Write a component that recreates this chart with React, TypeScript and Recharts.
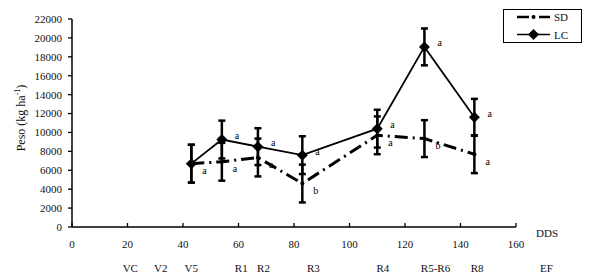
import React from "react";
import {
  ErrorBar,
  LabelList,
  Legend,
  Line,
  LineChart,
  XAxis,
  YAxis,
} from "recharts";

// days after sowing (DDS) of each sampling
const dds = [43, 54, 67, 83, 110, 127, 145];

// dry weight, kg/ha
const sdPeso = [6700, 6900, 7350, 4600, 9700, 9350, 7700];
const lcPeso = [6700, 9250, 8500, 7600, 10400, 19050, 11600];
const sdErr = [2000, 2000, 2000, 2000, 2000, 1950, 2000];
const lcErr = [2000, 2000, 1950, 2000, 2000, 1950, 1950];

// letters of the mean comparison
const sdSig = ["a", "a", "a", "b", "a", "b", "a"];
const lcSig = ["", "a", "a", "a", "a", "a", "a"];

const seriesOrder = ["SD", "LC"];

const xTicks = [0, 20, 40, 60, 80, 100, 120, 140, 160];
const yTicks = [0, 2000, 4000, 6000, 8000, 10000, 12000, 14000, 16000, 18000, 20000, 22000];

// phenological stages shown under the DDS axis
const stageLabels = ["VC", "V2", "V5", "R1", "R2", "R3", "R4", "R5-R6", "R8", "EF"];
const stageDds = [21, 32, 43, 61, 69, 87, 112, 131, 146, 171];

const data = dds.map((d, i) => ({
  dds: d,
  sd: sdPeso[i],
  sdErr: sdErr[i],
  sdSig: sdSig[i],
  lc: lcPeso[i],
  lcErr: lcErr[i],
  lcSig: lcSig[i],
}));

const FONT = '"Liberation Serif", "DejaVu Serif", serif';
const SD_DASH = "13 5 2 5";

function Diamond({ cx, cy }: { cx?: number; cy?: number }) {
  if (cx == null || cy == null) return null;
  const r = 5.5;
  return (
    <polygon
      points={`${cx},${cy - r} ${cx + r},${cy} ${cx},${cy + r} ${cx - r},${cy}`}
      fill="#000"
    />
  );
}

function SmallDot({ cx, cy }: { cx?: number; cy?: number }) {
  if (cx == null || cy == null) return null;
  return <circle cx={cx} cy={cy} r={2} fill="#000" />;
}

function DdsTick({ x, y, payload }: any) {
  return (
    <g>
      <line x1={x} x2={x} y1={y} y2={y - 4} stroke="#000" strokeWidth={1.3} />
      <text
        x={x}
        y={y + 17}
        textAnchor="middle"
        dominantBaseline="central"
        fontSize={11}
        fontFamily={FONT}
        fill="#111"
      >
        {payload.value}
      </text>
    </g>
  );
}

function StageTick({ x, y, payload }: any) {
  const label = stageLabels[stageDds.indexOf(payload.value)];
  return (
    <text
      x={x}
      y={y + 16}
      textAnchor="middle"
      dominantBaseline="central"
      fontSize={11}
      fontFamily={FONT}
      fill="#111"
    >
      {label}
    </text>
  );
}

function DdsLabel({ viewBox }: any) {
  return (
    <text
      x={viewBox.x + viewBox.width + 20}
      y={viewBox.y + 6}
      dominantBaseline="central"
      fontSize={11}
      fontFamily={FONT}
      fill="#111"
    >
      DDS
    </text>
  );
}

function PesoLabel({ viewBox }: any) {
  const cx = viewBox.x + 21;
  const cy = viewBox.y + 99;
  return (
    <text
      x={cx}
      y={cy}
      transform={`rotate(-90, ${cx}, ${cy})`}
      textAnchor="middle"
      dominantBaseline="central"
      fontSize={12}
      fontFamily={FONT}
      fill="#111"
    >
      Peso (kg ha
      <tspan fontSize={8} dy={-4}>
        -1
      </tspan>
      <tspan dy={4}>)</tspan>
    </text>
  );
}

function sigLabel(dx: number, dy: number) {
  return (props: any) => {
    const { x, y, value } = props;
    if (!value) return null;
    return (
      <text
        x={x + dx}
        y={y + dy}
        dominantBaseline="central"
        fontSize={10}
        fontFamily={FONT}
        fill="#000"
      >
        {value}
      </text>
    );
  };
}

function LegendBox({ payload }: any) {
  const items = (payload || [])
    .filter((e: any) => seriesOrder.includes(e.value))
    .sort((a: any, b: any) => seriesOrder.indexOf(a.value) - seriesOrder.indexOf(b.value));
  return (
    <div
      style={{
        width: 79,
        height: 34,
        border: "1px solid #000",
        boxSizing: "border-box",
        background: "#fff",
      }}
    >
      <svg width={77} height={32}>
        {items.map((entry: any, i: number) => {
          const y = 7 + i * 17.5;
          const dashed = entry.value === "SD";
          return (
            <g key={entry.value}>
              <line
                x1={13}
                x2={46}
                y1={y}
                y2={y}
                stroke="#000"
                strokeWidth={dashed ? 2.5 : 1.6}
                strokeDasharray={dashed ? "12 4 2 4" : undefined}
              />
              {dashed ? (
                <circle cx={29.5} cy={y} r={2} fill="#000" />
              ) : (
                <Diamond cx={29.5} cy={y} />
              )}
              <text
                x={50}
                y={y}
                dominantBaseline="central"
                fontSize={11}
                fontFamily={FONT}
                fill="#111"
              >
                {entry.value}
              </text>
            </g>
          );
        })}
      </svg>
    </div>
  );
}

export default function App() {
  return (
    <div style={{ position: "absolute", left: 0, top: 0, background: "#fff" }}>
      <LineChart
        width={589}
        height={276}
        data={data}
        margin={{ top: 19, right: 73, left: 0, bottom: 0 }}
        style={{ fontFamily: FONT }}
      >
        <XAxis
          dataKey="dds"
          type="number"
          domain={[0, 160]}
          ticks={xTicks}
          interval={0}
          height={25}
          tickSize={0}
          tickMargin={0}
          tickLine={false}
          axisLine={{ stroke: "#000", strokeWidth: 1.5 }}
          tick={<DdsTick />}
          label={<DdsLabel />}
        />
        <XAxis
          xAxisId="stage"
          dataKey="dds"
          type="number"
          domain={[0, 160]}
          allowDataOverflow
          ticks={stageDds}
          interval={0}
          height={24}
          tickSize={0}
          tickMargin={0}
          tickLine={false}
          axisLine={false}
          tick={<StageTick />}
        />
        <YAxis
          type="number"
          domain={[0, 22000]}
          ticks={yTicks}
          interval={0}
          width={72}
          tickSize={4}
          tickMargin={6}
          tickLine={{ stroke: "#000", strokeWidth: 1.3 }}
          axisLine={{ stroke: "#000", strokeWidth: 1.5 }}
          tick={{ fontSize: 11, fill: "#111", fontFamily: FONT }}
          label={<PesoLabel />}
        />
        <Legend
          layout="vertical"
          align="center"
          verticalAlign="middle"
          wrapperStyle={{ top: 9, left: 503, width: 79, height: 34 }}
          content={<LegendBox />}
        />
        {/* invisible series so the stage axis gets its scale */}
        <Line
          xAxisId="stage"
          dataKey="lc"
          name="stage"
          stroke="none"
          dot={false}
          activeDot={false}
          legendType="none"
          isAnimationActive={false}
        />
        <Line
          name="SD"
          type="linear"
          dataKey="sd"
          stroke="#000"
          strokeWidth={3}
          strokeDasharray={SD_DASH}
          dot={<SmallDot />}
          activeDot={false}
          isAnimationActive={false}
        >
          <ErrorBar
            dataKey="sdErr"
            direction="y"
            width={3.5}
            stroke="#000"
            strokeWidth={2.5}
            isAnimationActive={false}
          />
          <LabelList dataKey="sdSig" content={sigLabel(11, 7)} />
        </Line>
        <Line
          name="LC"
          type="linear"
          dataKey="lc"
          stroke="#000"
          strokeWidth={1.8}
          dot={<Diamond />}
          activeDot={false}
          isAnimationActive={false}
        >
          <ErrorBar
            dataKey="lcErr"
            direction="y"
            width={3.5}
            stroke="#000"
            strokeWidth={2.5}
            isAnimationActive={false}
          />
          <LabelList dataKey="lcSig" content={sigLabel(13, -4)} />
        </Line>
      </LineChart>
    </div>
  );
}
